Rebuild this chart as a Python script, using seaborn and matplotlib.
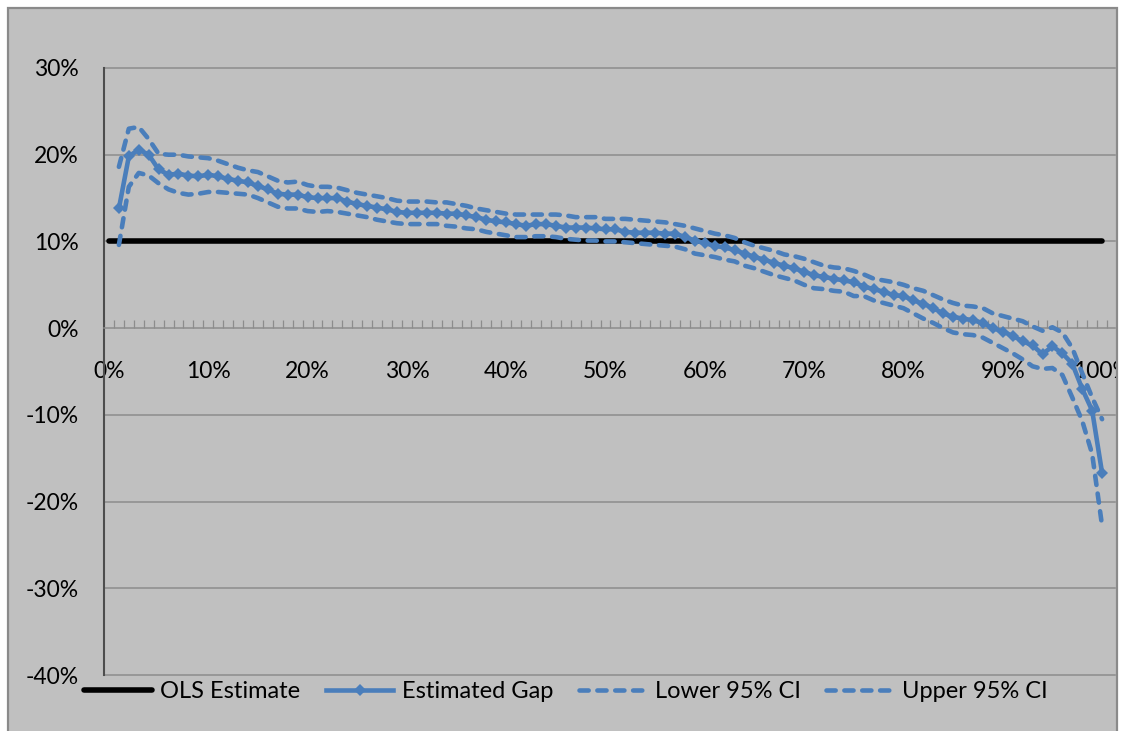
import matplotlib
matplotlib.use("Agg")
import matplotlib.pyplot as plt
import matplotlib.ticker as mticker
from matplotlib.patches import Rectangle
import seaborn as sns
import pandas as pd

# ---------------- data (values in %) ----------------
percentile = list(range(0, 101))
ols_value = 10.1

gap = [13.8, 19.8, 20.6, 20.0, 18.3, 17.7, 17.8, 17.6, 17.5, 17.7,
       17.5, 17.2, 17.0, 16.8, 16.4, 16.0, 15.5, 15.4, 15.4, 15.1,
       15.0, 15.0, 15.0, 14.6, 14.3, 14.1, 13.9, 13.7, 13.4, 13.3,
       13.3, 13.3, 13.3, 13.2, 13.2, 13.0, 12.8, 12.5, 12.3, 12.2,
       12.0, 11.8, 12.0, 12.0, 11.8, 11.6, 11.6, 11.6, 11.5, 11.4,
       11.4, 11.1, 11.0, 11.0, 11.0, 10.9, 10.9, 10.5, 10.1, 9.8,
       9.5, 9.3, 9.0, 8.6, 8.2, 7.9, 7.5, 7.2, 6.9, 6.5,
       6.1, 5.9, 5.7, 5.5, 5.3, 4.8, 4.5, 4.2, 3.8, 3.7,
       3.2, 2.8, 2.3, 1.7, 1.3, 1.1, 0.9, 0.6, 0.0, -0.4,
       -0.9, -1.5, -2.0, -3.0, -2.1, -2.9, -4.1, -7.0, -9.5, -16.7]

upper = [18.6, 23.0, 23.2, 21.8, 20.1, 20.0, 20.0, 19.8, 19.7, 19.6,
         19.3, 18.9, 18.5, 18.2, 18.0, 17.5, 17.0, 16.8, 16.9, 16.5,
         16.3, 16.3, 16.2, 15.9, 15.6, 15.4, 15.2, 15.0, 14.7, 14.6,
         14.6, 14.6, 14.5, 14.5, 14.3, 14.1, 13.8, 13.6, 13.4, 13.2,
         13.1, 13.1, 13.1, 13.1, 13.1, 13.0, 12.8, 12.8, 12.8, 12.6,
         12.6, 12.6, 12.5, 12.4, 12.3, 12.2, 12.0, 11.8, 11.5, 11.2,
         10.9, 10.7, 10.4, 9.9, 9.5, 9.2, 8.9, 8.5, 8.3, 8.0,
         7.6, 7.2, 7.0, 6.9, 6.6, 6.2, 5.7, 5.5, 5.3, 5.0,
         4.6, 4.3, 3.8, 3.3, 2.9, 2.6, 2.5, 2.3, 1.7, 1.4,
         1.1, 0.8, 0.2, -0.3, 0.1, -0.5, -2.3, -5.2, -8.0, -10.5]

lower = [9.6, 16.3, 17.9, 17.6, 16.7, 16.0, 15.6, 15.4, 15.5, 15.7,
         15.7, 15.6, 15.5, 15.4, 15.0, 14.5, 14.0, 13.8, 13.8, 13.5,
         13.4, 13.5, 13.4, 13.2, 13.0, 12.8, 12.5, 12.3, 12.1, 12.0,
         12.0, 12.0, 12.0, 11.8, 11.7, 11.5, 11.4, 11.1, 10.9, 10.7,
         10.5, 10.5, 10.6, 10.6, 10.5, 10.3, 10.2, 10.1, 10.1, 10.0,
         10.0, 9.9, 9.8, 9.7, 9.6, 9.5, 9.4, 9.1, 8.6, 8.4,
         8.2, 7.9, 7.7, 7.2, 6.9, 6.5, 6.1, 5.8, 5.5, 5.0,
         4.6, 4.5, 4.3, 4.2, 3.7, 3.7, 3.2, 2.9, 2.6, 2.3,
         1.7, 1.1, 0.6, 0.0, -0.5, -0.7, -0.8, -1.1, -1.7, -2.3,
         -2.9, -3.6, -4.4, -4.7, -4.6, -5.4, -8.0, -10.7, -14.5, -22.8]

x_tick_values = list(range(0, 101, 10))
x_tick_labels = [f"{v}%" for v in x_tick_values]
y_tick_values = list(range(-40, 31, 10))
series_labels = ["OLS Estimate", "Estimated Gap", "Lower 95% CI", "Upper 95% CI"]

# ---------------- figure ----------------
W, H, DPI = 1121, 731, 100
plt.rcParams["font.family"] = ["Lato", "DejaVu Sans"]
plt.rcParams["axes.unicode_minus"] = False
FS = 17

fig = plt.figure(figsize=(W / DPI, H / DPI), dpi=DPI, facecolor="white")
# chart frame
frame = Rectangle((8 / W, -0.05), (1117 - 8) / W, (H - 8) / H + 0.05,
                  transform=fig.transFigure, facecolor="#C0C0C0",
                  edgecolor="#8A8A8A", linewidth=1.6, zorder=-10)
fig.patches.append(frame)

ax = fig.add_axes([104 / W, (H - 675) / H, (1115 - 104) / W, (675 - 68) / H])
ax.set_facecolor("none")
ax.set_zorder(1)

blue = "#4A7EBB"
LW = 3.3
df_ols = pd.DataFrame({"p": percentile, "v": [ols_value] * len(percentile)})
df_gap = pd.DataFrame({"p": percentile[1:], "v": gap})
df_low = pd.DataFrame({"p": percentile[1:], "v": lower})
df_up = pd.DataFrame({"p": percentile[1:], "v": upper})

sns.lineplot(data=df_ols, x="p", y="v", ax=ax, color="black", linewidth=4.0,
             solid_capstyle="round", label=series_labels[0], zorder=3)
sns.lineplot(data=df_gap, x="p", y="v", ax=ax, color=blue, linewidth=LW,
             marker="D", markersize=6, markeredgewidth=0, label=series_labels[1], zorder=4)
l_low = sns.lineplot(data=df_low, x="p", y="v", ax=ax, color=blue, linewidth=LW,
                     label=series_labels[2], zorder=4).get_lines()[-1]
l_up = sns.lineplot(data=df_up, x="p", y="v", ax=ax, color=blue, linewidth=LW,
                    label=series_labels[3], zorder=4).get_lines()[-1]
for ln in (l_low, l_up):
    ln.set_dashes([2.0, 1.9])
    ln.set_dash_capstyle("round")

ax.set_xlim(-0.5, 101.3)
ax.set_ylim(-40, 30)
ax.set_xlabel("")
ax.set_ylabel("")

# grid
for v in y_tick_values:
    if v != 0:
        ax.axhline(v, color="#8C8C8C", linewidth=1.1, zorder=1, clip_on=False)

for s in ["top", "right"]:
    ax.spines[s].set_visible(False)
ax.spines["left"].set_color("#4D4D4D")
ax.spines["left"].set_linewidth(1.5)
ax.spines["bottom"].set_position(("data", 0))
ax.spines["bottom"].set_color("#8C8C8C")
ax.spines["bottom"].set_linewidth(1.1)

ax.yaxis.set_major_locator(mticker.FixedLocator(y_tick_values))
ax.yaxis.set_major_formatter(mticker.FuncFormatter(lambda v, p: f"{v:.0f}%"))
ax.tick_params(axis="y", length=0, pad=18, labelsize=FS - 0.5, labelcolor="black")

ax.set_xticks(x_tick_values)
ax.set_xticklabels(x_tick_labels)
ax.set_xticks([i - 0.5 for i in range(0, 102)], minor=True)
ax.tick_params(axis="x", which="major", length=0, pad=24, labelsize=FS - 0.5, labelcolor="black")
ax.tick_params(axis="x", which="minor", direction="in", length=5.5, width=0.9, color="#8C8C8C")

clip = Rectangle((0, 0), 1116 / W, 1, transform=fig.transFigure)
for lab in ax.get_xticklabels():
    lab.set_clip_path(clip)

ax.get_legend().remove()
h = [ln for ln in ax.get_lines() if ln.get_label() in series_labels]
leg = fig.legend(h, series_labels, loc="center", bbox_to_anchor=(566 / W, 1 - 692 / H),
                 ncol=4, frameon=False, fontsize=FS, handlelength=2.85,
                 handletextpad=0.35, columnspacing=1.1)

fig.savefig("out.png", dpi=DPI, facecolor="white")
